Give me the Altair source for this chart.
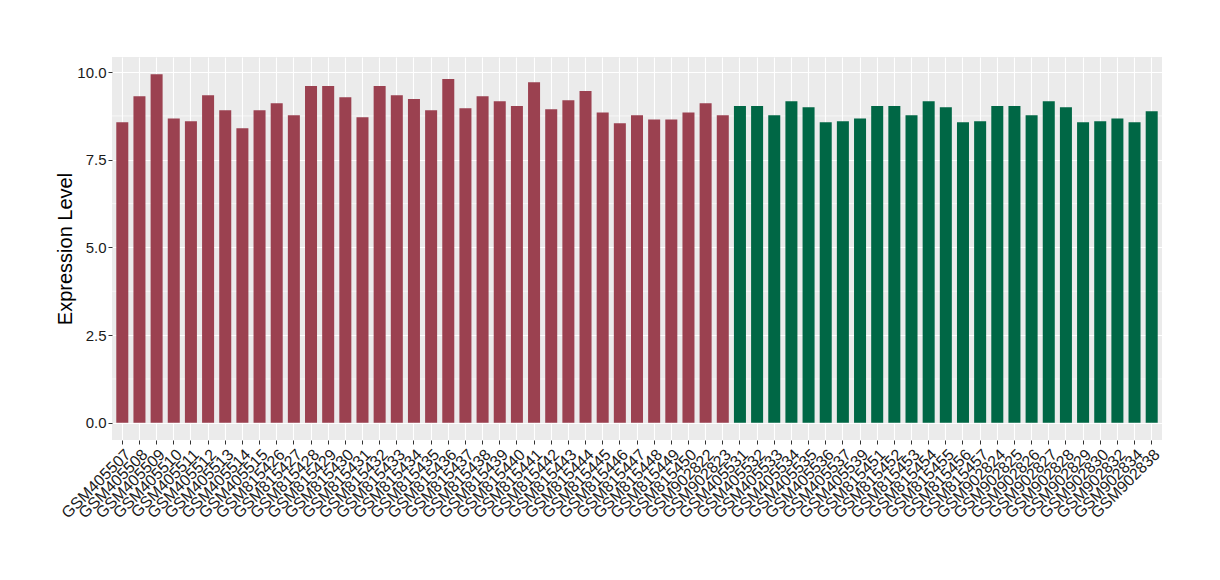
import altair as alt
import pandas as pd

samples = [
    "GSM405507", "GSM405508", "GSM405509", "GSM405510", "GSM405511", "GSM405512",
    "GSM405513", "GSM405514", "GSM405515", "GSM815426", "GSM815427", "GSM815428",
    "GSM815429", "GSM815430", "GSM815431", "GSM815432", "GSM815433", "GSM815434",
    "GSM815435", "GSM815436", "GSM815437", "GSM815438", "GSM815439", "GSM815440",
    "GSM815441", "GSM815442", "GSM815443", "GSM815444", "GSM815445", "GSM815446",
    "GSM815447", "GSM815448", "GSM815449", "GSM815450", "GSM902822", "GSM902823",
    "GSM405531", "GSM405532", "GSM405533", "GSM405534", "GSM405535", "GSM405536",
    "GSM405537", "GSM405539", "GSM815451", "GSM815452", "GSM815453", "GSM815454",
    "GSM815455", "GSM815456", "GSM815457", "GSM902824", "GSM902825", "GSM902826",
    "GSM902827", "GSM902828", "GSM902829", "GSM902830", "GSM902832", "GSM902834",
    "GSM902838",
]
values = [
    8.57, 9.31, 9.94, 8.68, 8.60, 9.34, 8.91, 8.40, 8.91, 9.11, 8.77, 9.60,
    9.60, 9.28, 8.71, 9.60, 9.34, 9.23, 8.91, 9.80, 8.97, 9.31, 9.17, 9.03,
    9.71, 8.94, 9.20, 9.46, 8.85, 8.54, 8.77, 8.65, 8.65, 8.85, 9.11, 8.77,
    9.03, 9.03, 8.77, 9.17, 9.00, 8.57, 8.60, 8.68, 9.03, 9.03, 8.77, 9.17,
    9.00, 8.57, 8.60, 9.03, 9.03, 8.77, 9.17, 9.00, 8.57, 8.60, 8.68, 8.57,
    8.88,
]
groups = ["A"] * 36 + ["B"] * 25
group_colors = ["#9B4150", "#006745"]
y_ticks = [0, 2.5, 5, 7.5, 10]
y_minor = [1.25, 3.75, 6.25, 8.75]

df = pd.DataFrame({"sample": samples, "value": values, "group": groups})
minor_df = pd.DataFrame({"y": y_minor})

W, H = 1050, 383
FONT = "Liberation Sans"

x_scale = alt.Scale(domain=samples, paddingInner=0.3, paddingOuter=0.25)
y_scale = alt.Scale(domain=[-0.49, 10.43], nice=False, zero=False)

minor = alt.Chart(minor_df).mark_rule(color="white", strokeWidth=0.6).encode(
    y=alt.Y("y:Q", scale=y_scale)
)

bars = alt.Chart(df).mark_bar().encode(
    x=alt.X(
        "sample:N",
        scale=x_scale,
        sort=samples,
        axis=alt.Axis(
            title=None,
            labelAngle=-45,
            labelAlign="right",
            labelBaseline="top",
            labelPadding=2,
            labelFontSize=16,
            labelFont=FONT,
            labelColor="#1a1a1a",
            labelOverlap=False,
            tickSize=4,
            tickColor="#333333",
            domain=False,
            grid=True,
            gridColor="white",
            gridWidth=1.1,
            bandPosition=0.5,
        ),
    ),
    y=alt.Y(
        "value:Q",
        scale=y_scale,
        axis=alt.Axis(
            title="Expression Level",
            values=y_ticks,
            format=".1f",
            labelFontSize=15,
            labelFont=FONT,
            labelColor="#1a1a1a",
            labelPadding=2,
            tickSize=4,
            tickColor="#333333",
            domain=False,
            grid=True,
            gridColor="white",
            gridWidth=1.1,
            titleFont=FONT,
            titleFontSize=20,
            titleFontWeight="normal",
            titleColor="black",
            titleAngle=-90,
            titleX=-47,
            titleY=H / 2,
            titleAlign="center",
            titleBaseline="middle",
        ),
    ),
    y2=alt.datum(0),
    color=alt.Color(
        "group:N",
        scale=alt.Scale(domain=["A", "B"], range=group_colors),
        legend=None,
    ),
)

chart = (
    alt.layer(minor, bars)
    .properties(
        width=W,
        height=H,
        autosize=alt.AutoSizeParams(type="none"),
        padding={"left": 104, "top": 49, "right": 40, "bottom": 120},
    )
    .configure(background="white")
    .configure_view(fill="#EBEBEB", strokeWidth=0)
)

chart.save("out.html", embed_options={"renderer": "svg", "actions": False})
